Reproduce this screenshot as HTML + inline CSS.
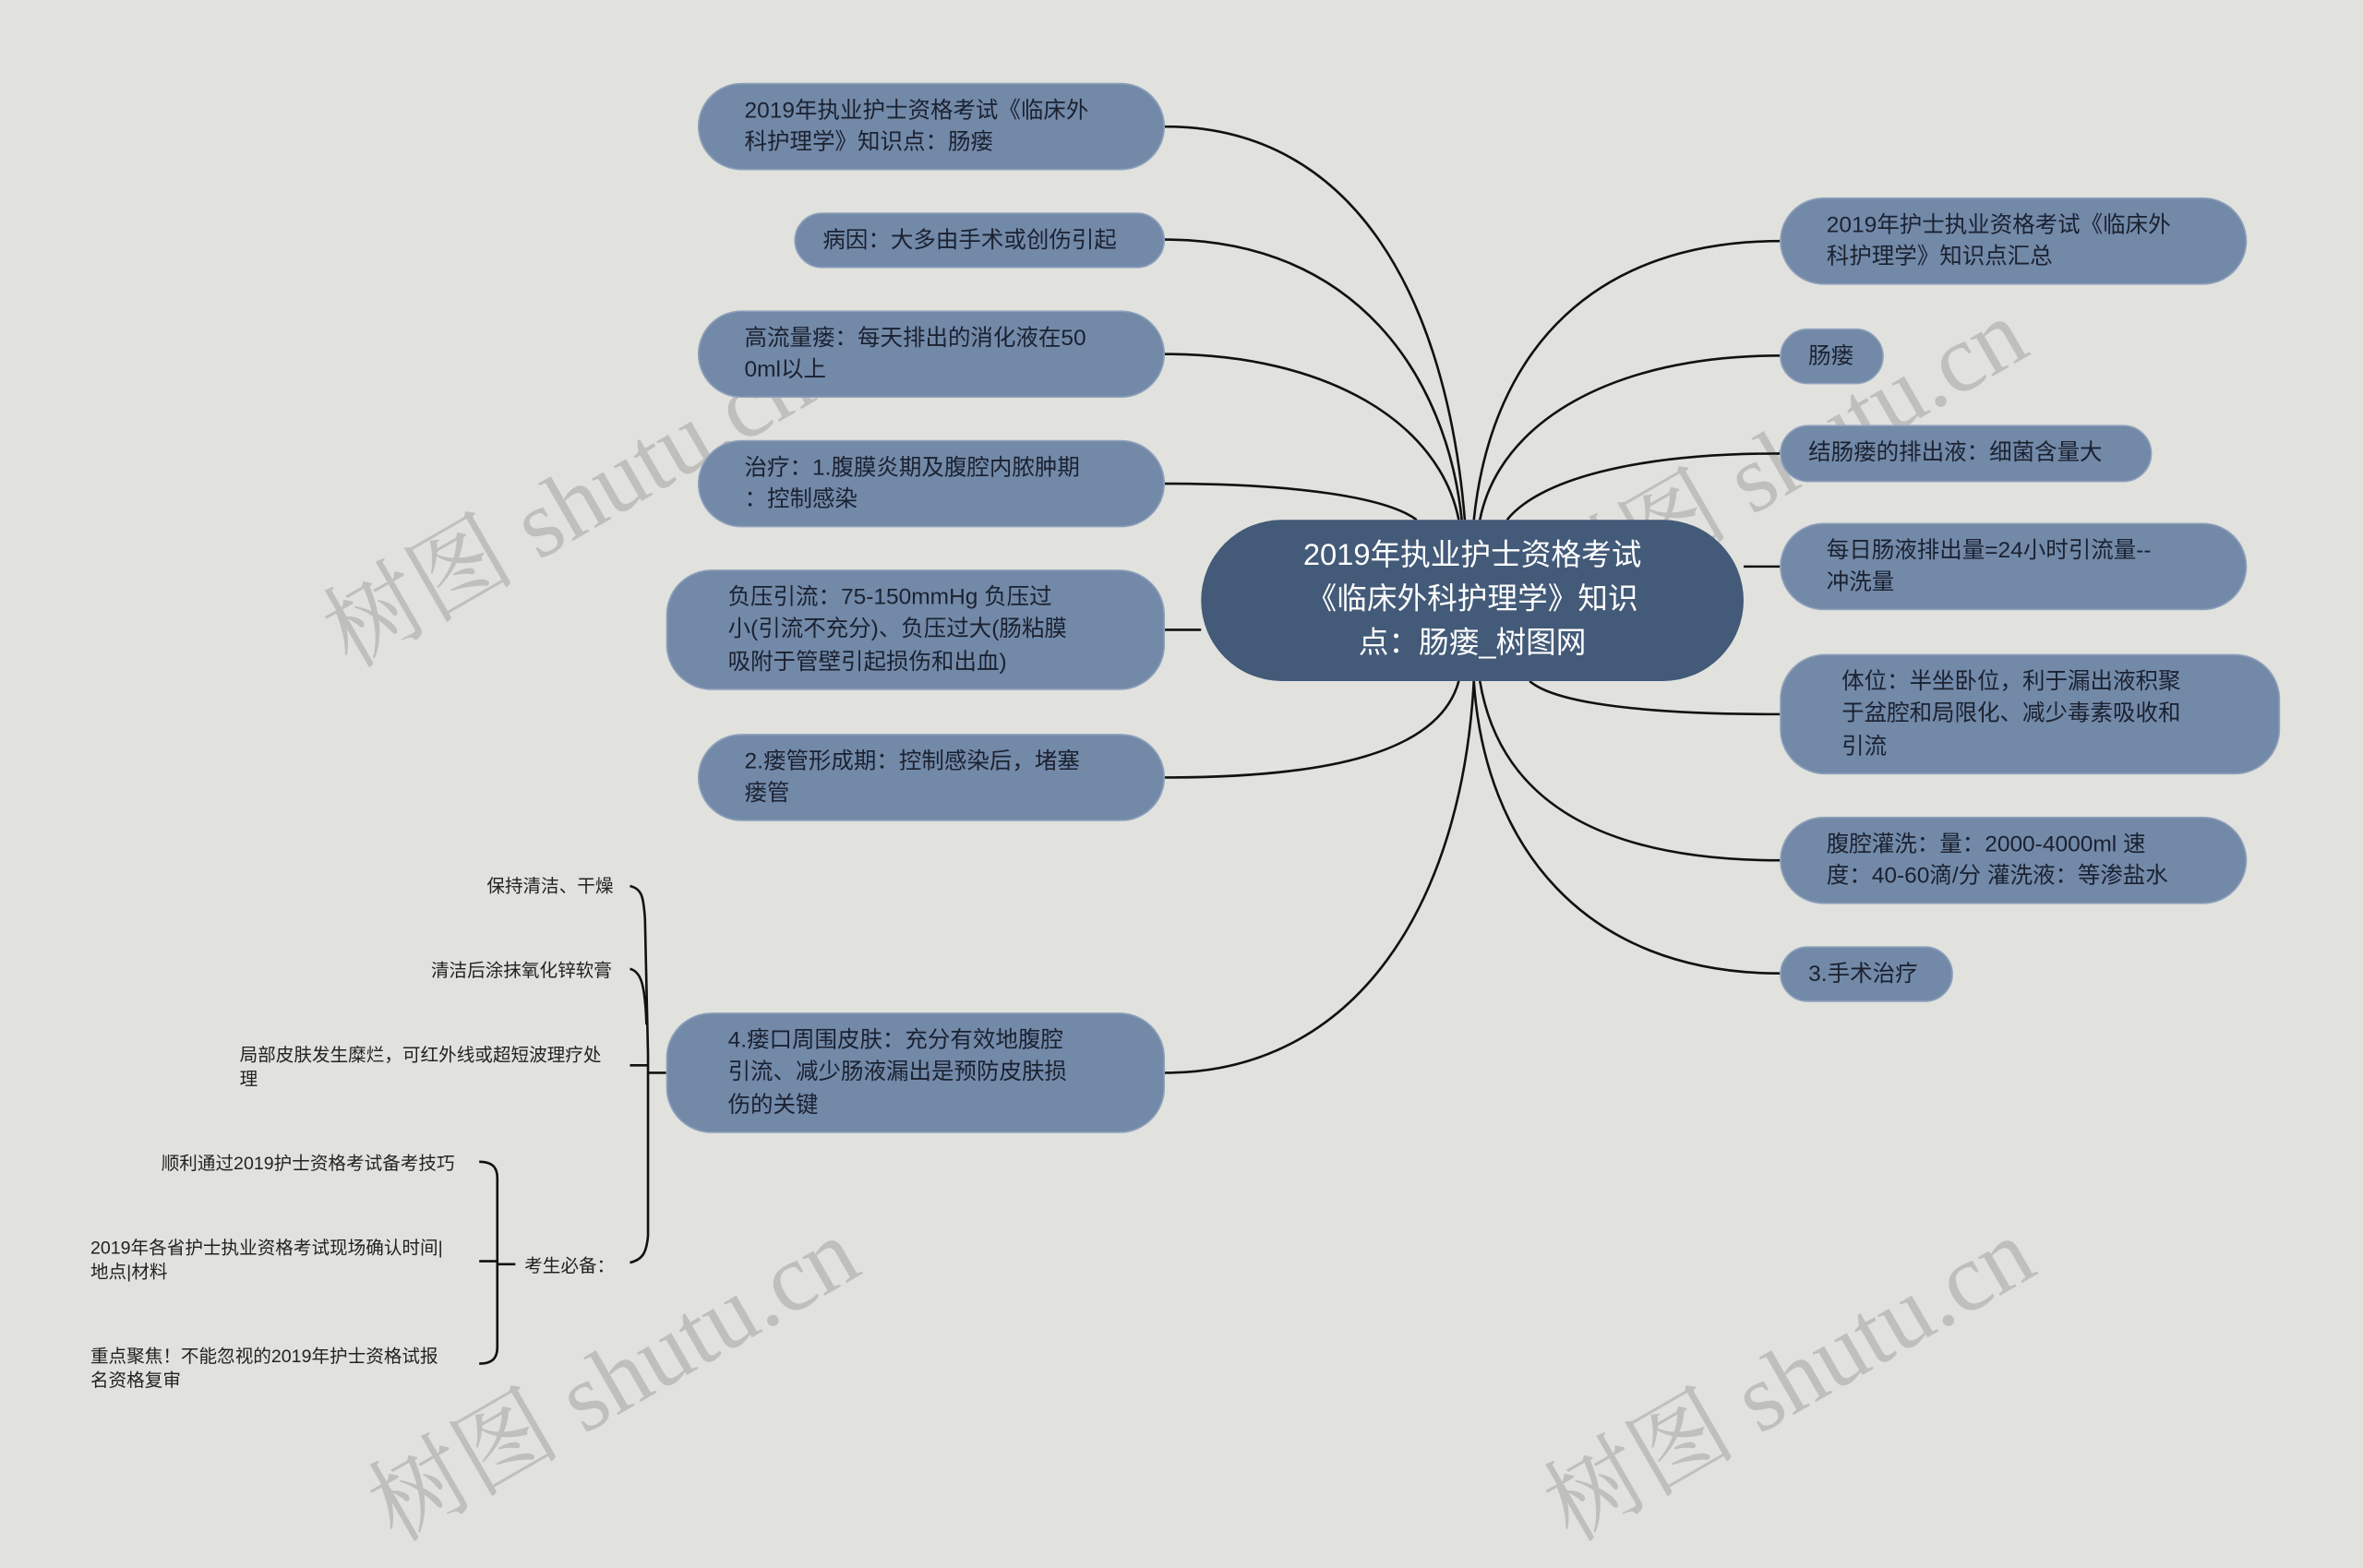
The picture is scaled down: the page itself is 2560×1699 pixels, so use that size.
<!DOCTYPE html>
<html><head><meta charset="utf-8"><style>
html,body{margin:0;padding:0;background:#e1e2de;overflow:hidden;width:2560px;height:1605px;}
#w{position:absolute;left:0;top:0;width:1568px;height:983px;transform:scale(1.63265);transform-origin:0 0;font-family:"Liberation Sans","Noto Sans CJK SC",sans-serif;}
.n{position:absolute;background:#7389a8;border-radius:30px;color:#1a2130;font-size:15px;line-height:21.5px;box-sizing:border-box;padding:0 0 0 30px;display:flex;align-items:center;border:1px solid #8ea0ba;}
.s{padding-left:18px;}
.c{position:absolute;left:797px;top:345px;width:360px;height:107px;background:#435a78;border-radius:54px;color:#fff;font-size:20px;line-height:29px;text-align:center;display:flex;align-items:center;justify-content:center;}
.l{position:absolute;font-size:12px;line-height:16px;color:#222;}
.wm{position:absolute;font-family:"Liberation Serif","Noto Serif CJK SC",serif;font-size:64px;color:rgba(150,150,150,0.45);transform:rotate(-30deg);white-space:nowrap;}
svg{position:absolute;left:0;top:0;}
</style></head><body><div id="w">
<div class="wm" style="left:195px;top:285px">树图 shutu.cn</div>
<div class="wm" style="left:1000px;top:255px">树图 shutu.cn</div>
<div class="wm" style="left:225px;top:865px">树图 shutu.cn</div>
<div class="wm" style="left:1005px;top:865px">树图 shutu.cn</div>
<svg width="1568" height="983" fill="none" stroke="#111" stroke-width="1.6">
<path d="M773,84 C900,84 960,200 972,345"/>
<path d="M773,159 C900,159 960,250 970,345"/>
<path d="M773,235 C880,235 955,280 968,345"/>
<path d="M773,321 C860,321 920,330 940,345"/>
<path d="M773,418 L797,418"/>
<path d="M773,516 C880,516 955,500 968,452"/>
<path d="M773,712 C900,712 970,600 978,452"/>
<path d="M1181,160 C1060,160 990,230 978,345"/>
<path d="M1181,236 C1070,236 995,280 982,345"/>
<path d="M1181,301 C1080,301 1020,320 1000,345"/>
<path d="M1157,376 L1181,376"/>
<path d="M1181,474 C1080,474 1030,465 1015,452"/>
<path d="M1181,571 C1060,571 995,530 982,452"/>
<path d="M1181,646 C1050,646 985,560 978,452"/>
<path d="M442,712 L430,712"/>
<path d="M418,588 C426,590 427,595 428,610 L430,700 L430,820 C429,832 426,836 418,838"/>
<path d="M418,643 C426,645 428,655 429,680"/>
<path d="M418,707 L430,707"/>
<path d="M318,771 C326,771 330,774 330,782 L330,894 C330,902 326,905 318,905"/>
<path d="M318,837 L330,837 M330,839 L342,839"/>
</svg>
<div class="n" style="left:463px;top:55px;width:310px;height:58px">2019年执业护士资格考试《临床外<br>科护理学》知识点：肠瘘</div>
<div class="n s" style="left:527px;top:141px;width:246px;height:37px">病因：大多由手术或创伤引起</div>
<div class="n" style="left:463px;top:206px;width:310px;height:58px">高流量瘘：每天排出的消化液在50<br>0ml以上</div>
<div class="n" style="left:463px;top:292px;width:310px;height:58px">治疗：1.腹膜炎期及腹腔内脓肿期<br>：控制感染</div>
<div class="n" style="left:442px;top:378px;width:331px;height:80px;padding-left:40px">负压引流：75-150mmHg 负压过<br>小(引流不充分)、负压过大(肠粘膜<br>吸附于管壁引起损伤和出血)</div>
<div class="n" style="left:463px;top:487px;width:310px;height:58px">2.瘘管形成期：控制感染后，堵塞<br>瘘管</div>
<div class="n" style="left:442px;top:672px;width:331px;height:80px;padding-left:40px">4.瘘口周围皮肤：充分有效地腹腔<br>引流、减少肠液漏出是预防皮肤损<br>伤的关键</div>
<div class="c">2019年执业护士资格考试<br>《临床外科护理学》知识<br>点：肠瘘_树图网</div>
<div class="n" style="left:1181px;top:131px;width:310px;height:58px">2019年护士执业资格考试《临床外<br>科护理学》知识点汇总</div>
<div class="n s" style="left:1181px;top:218px;width:69px;height:37px">肠瘘</div>
<div class="n s" style="left:1181px;top:282px;width:247px;height:38px">结肠瘘的排出液：细菌含量大</div>
<div class="n" style="left:1181px;top:347px;width:310px;height:58px">每日肠液排出量=24小时引流量--<br>冲洗量</div>
<div class="n" style="left:1181px;top:434px;width:332px;height:80px;padding-left:40px">体位：半坐卧位，利于漏出液积聚<br>于盆腔和局限化、减少毒素吸收和<br>引流</div>
<div class="n" style="left:1181px;top:542px;width:310px;height:58px">腹腔灌洗：量：2000-4000ml 速<br>度：40-60滴/分 灌洗液：等渗盐水</div>
<div class="n s" style="left:1181px;top:628px;width:115px;height:37px">3.手术治疗</div>
<div class="l" style="left:323px;top:580px">保持清洁、干燥</div>
<div class="l" style="left:286px;top:636px">清洁后涂抹氧化锌软膏</div>
<div class="l" style="left:159px;top:692px;width:255px">局部皮肤发生糜烂，可红外线或超短波理疗处<br>理</div>
<div class="l" style="left:107px;top:764px">顺利通过2019护士资格考试备考技巧</div>
<div class="l" style="left:60px;top:820px">2019年各省护士执业资格考试现场确认时间|<br>地点|材料</div>
<div class="l" style="left:60px;top:892px">重点聚焦！不能忽视的2019年护士资格试报<br>名资格复审</div>
<div class="l" style="left:348px;top:832px">考生必备：</div>
</div></body></html>
